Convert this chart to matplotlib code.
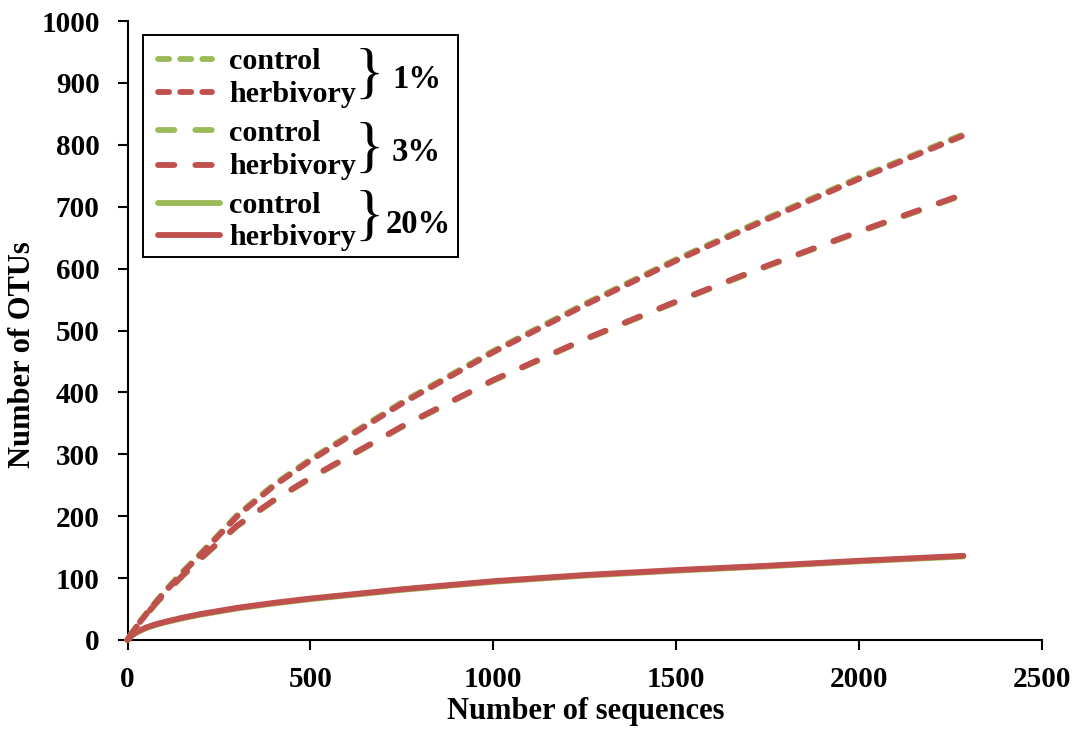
import matplotlib
matplotlib.use("Agg")
import matplotlib.pyplot as plt
from matplotlib.lines import Line2D
from matplotlib.patches import Rectangle

# ---- data ----
seqs = [0, 10, 25, 50, 75, 100, 150, 200, 300, 400, 500, 750, 1000, 1250, 1500, 1750, 2000, 2285]

otu1_ctrl = [0, 10, 23, 42, 60, 78, 110, 140, 202, 251, 292, 384, 467, 543, 615, 682, 747, 817]
otu1_herb = [0, 9, 22, 41, 59, 76, 108, 138, 200, 249, 290, 382, 465, 541, 613, 680, 745, 815]
otu3_ctrl = [0, 9, 21, 39, 57, 73, 103, 131, 184, 225, 261, 344, 419, 485, 546, 604, 659, 719]
otu3_herb = [0, 9, 22, 40, 58, 74, 104, 132, 185, 226, 262, 345, 420, 486, 547, 605, 660, 720]
otu20_ctrl = [0, 6, 12, 19, 24, 28, 35, 41, 51, 59, 66, 81, 94, 104, 112, 119, 127, 135]
otu20_herb = [0, 7, 13, 20, 25, 29, 36, 42, 52, 60, 67, 82, 95, 105, 113, 120, 128, 136]

xticks = [0, 500, 1000, 1500, 2000, 2500]
yticks = [0, 100, 200, 300, 400, 500, 600, 700, 800, 900, 1000]
groups = ["1%", "3%", "20%"]
treatments = ["control", "herbivory"]

GREEN = "#9BBB59"
RED = "#C0504D"
LW = 4.2
DASH1 = (1.9, 1.9)
DASH3 = (2.8, 3.6)

W, H = 1081, 729
plt.rcParams['font.family'] = ['Liberation Serif', 'DejaVu Serif']
plt.rcParams['font.weight'] = 'bold'

fig = plt.figure(figsize=(W / 100, H / 100), dpi=100)
ax = fig.add_axes([127.5 / W, 1 - 640 / H, (1042 - 127.5) / W, (640 - 21) / H])


def draw(y, color, dashes):
    kw = dict(color=color, lw=LW, clip_on=False, zorder=3)
    if dashes is None:
        ax.plot(seqs, y, solid_capstyle='round', **kw)
    else:
        ax.plot(seqs, y, linestyle=(0, dashes), dash_capstyle='round', **kw)


draw(otu20_ctrl, GREEN, None)
draw(otu20_herb, RED, None)
draw(otu3_ctrl, GREEN, DASH3)
draw(otu3_herb, RED, DASH3)
draw(otu1_ctrl, GREEN, DASH1)
draw(otu1_herb, RED, DASH1)

ax.set_xlim(0, 2500)
ax.set_ylim(0, 1000)
ax.set_xticks(xticks)
ax.set_yticks(yticks)
for s in ['top', 'right']:
    ax.spines[s].set_visible(False)
for s in ['left', 'bottom']:
    ax.spines[s].set_linewidth(1.5)
    ax.spines[s].set_color('black')
ax.tick_params(axis='both', direction='out', length=7, width=1.5, labelsize=21, colors='black')
ax.tick_params(axis='y', pad=13)
ax.tick_params(axis='x', pad=11.5)
for lab in ax.get_xticklabels() + ax.get_yticklabels():
    lab.set_fontweight('bold')


def P(x, y):
    return (x / W, 1 - y / H)


fig.text(*P(585.5, 712), "Number of sequences", ha='center', va='center',
         fontsize=22, fontweight='bold')
fig.text(*P(23, 355), "Number of OTUs", ha='center', va='center', rotation=90,
         fontsize=22, fontweight='bold')

# ---- custom legend with braces ----
x0, y0 = P(143, 257)
x1, y1 = P(458, 35)
fig.add_artist(Rectangle((x0, y0), x1 - x0, y1 - y0, transform=fig.transFigure,
                         facecolor='white', edgecolor='black', lw=1.4, zorder=5))

line_y = [59, 92, 130, 165, 203, 235]
base_y = [69, 102, 141, 174, 213, 245]
styles = [DASH1, DASH1, DASH3, DASH3, None, None]
starts = [158, 158, 158, 158, 158, 158]
ends = [212, 212, 212, 212, 220, 220]
colors = [GREEN, RED, GREEN, RED, GREEN, RED]
for i in range(6):
    xa, ya = P(starts[i], line_y[i])
    xb, _ = P(ends[i], line_y[i])
    kw = dict(transform=fig.transFigure, color=colors[i], lw=LW, zorder=6)
    if styles[i] is None:
        ln = Line2D([xa, xb], [ya, ya], solid_capstyle='round', **kw)
    else:
        ln = Line2D([xa, xb], [ya, ya], linestyle=(0, styles[i]), dash_capstyle='round', **kw)
    fig.add_artist(ln)
    fig.text(*P(229, base_y[i]), treatments[i % 2], ha='left', va='baseline',
             fontsize=21.7, fontweight='bold', zorder=6)

brace_y = [77, 151, 219]
pct_base = [88, 161, 233]
pct_x = [392, 392, 386]
for g in range(3):
    fig.text(*P(369, brace_y[g]), "}", ha='center', va='center', fontsize=44,
             fontweight='normal', zorder=6)
    fig.text(*P(pct_x[g], pct_base[g]), groups[g], ha='left', va='baseline',
             fontsize=23.5, fontweight='bold', zorder=6)

fig.savefig("out.png", dpi=100)
